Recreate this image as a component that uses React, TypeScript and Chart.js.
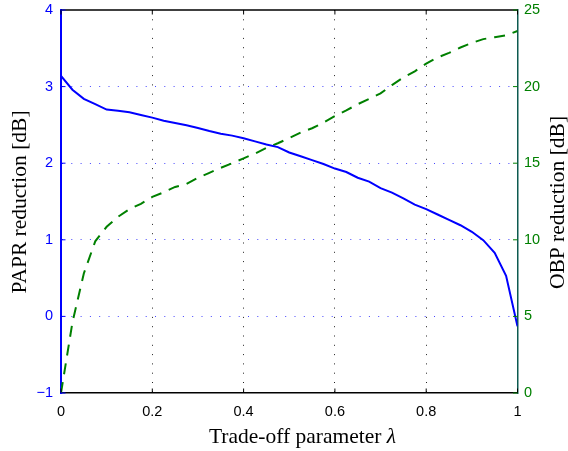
import React, { useEffect, useRef } from 'react';
import { Chart, registerables } from 'chart.js';

Chart.register(...registerables);

const lambdaValues = [
  0, 0.025, 0.05, 0.075, 0.1, 0.125, 0.15, 0.175, 0.2, 0.225, 0.25, 0.275, 0.3, 0.325,
  0.35, 0.375, 0.4, 0.425, 0.45, 0.475, 0.5, 0.525, 0.55, 0.575, 0.6, 0.625, 0.65, 0.675,
  0.7, 0.725, 0.75, 0.775, 0.8, 0.825, 0.85, 0.875, 0.9, 0.925, 0.95, 0.975, 1,
];

const paprReduction = [
  3.14, 2.96, 2.84, 2.77, 2.7, 2.685, 2.665, 2.63, 2.595, 2.555, 2.525, 2.495, 2.46, 2.42,
  2.385, 2.36, 2.325, 2.285, 2.245, 2.21, 2.14, 2.09, 2.04, 1.99, 1.93, 1.885, 1.81, 1.76,
  1.675, 1.615, 1.54, 1.46, 1.4, 1.33, 1.26, 1.19, 1.105, 0.995, 0.83, 0.53, -0.13,
];

const obpReduction = [
  0, 4.6, 7.8, 9.9, 10.85, 11.5, 12.0, 12.35, 12.8, 13.1, 13.45, 13.65, 14.05, 14.37,
  14.7, 15.0, 15.32, 15.63, 16.0, 16.3, 16.64, 17.0, 17.28, 17.65, 18.08, 18.45, 18.85, 19.2,
  19.56, 20.1, 20.6, 21.0, 21.5, 21.9, 22.2, 22.55, 22.85, 23.1, 23.22, 23.35, 23.63,
];

const xTicks = [0, 0.2, 0.4, 0.6, 0.8, 1];
const paprTicks = [-1, 0, 1, 2, 3, 4];
const obpTicks = [0, 5, 10, 15, 20, 25];

const xTitle = 'Trade-off parameter ';
const xTitleSymbol = 'λ';
const leftTitle = 'PAPR reduction [dB]';
const rightTitle = 'OBP reduction [dB]';

const BLUE = '#0000ff';
const GREEN = '#008000';
const SERIF = '"Liberation Serif", "Times New Roman", serif';
const SANS = '"Liberation Sans", Arial, Helvetica, sans-serif';
const TITLE_SIZE = 21.5;

const decorPlugin = {
  id: 'decor',
  afterDraw(chart: any) {
    const { ctx, chartArea } = chart;
    const { left, right, top, bottom } = chartArea;
    const xs = chart.scales.x;
    const yl = chart.scales.y;
    const yr = chart.scales.y1;
    ctx.save();
    ctx.setLineDash([]);
    // top border
    ctx.strokeStyle = '#000';
    ctx.lineWidth = 1.5;
    ctx.beginPath();
    ctx.moveTo(left, top);
    ctx.lineTo(right, top);
    ctx.stroke();
    // inward ticks
    ctx.lineWidth = 1;
    const tl = 4.5;
    xTicks.forEach((v) => {
      const px = xs.getPixelForValue(v);
      ctx.beginPath();
      ctx.moveTo(px, bottom);
      ctx.lineTo(px, bottom - tl);
      ctx.moveTo(px, top);
      ctx.lineTo(px, top + tl);
      ctx.stroke();
    });
    ctx.strokeStyle = BLUE;
    paprTicks.forEach((v) => {
      const py = yl.getPixelForValue(v);
      ctx.beginPath();
      ctx.moveTo(left, py);
      ctx.lineTo(left + tl, py);
      ctx.stroke();
    });
    ctx.strokeStyle = GREEN;
    obpTicks.forEach((v) => {
      const py = yr.getPixelForValue(v);
      ctx.beginPath();
      ctx.moveTo(right, py);
      ctx.lineTo(right - tl, py);
      ctx.stroke();
    });

    // titles
    ctx.fillStyle = '#000';
    ctx.textBaseline = 'alphabetic';
    ctx.textAlign = 'left';
    const normalFont = `${TITLE_SIZE}px ${SERIF}`;
    const italicFont = `italic ${TITLE_SIZE}px ${SERIF}`;
    ctx.font = normalFont;
    const w1 = ctx.measureText(xTitle).width;
    ctx.font = italicFont;
    const w2 = ctx.measureText(xTitleSymbol).width;
    const cx = 302.5;
    const startX = cx - (w1 + w2) / 2;
    ctx.font = normalFont;
    ctx.fillText(xTitle, startX, 443);
    ctx.font = italicFont;
    ctx.fillText(xTitleSymbol, startX + w1, 443);

    ctx.font = normalFont;
    ctx.textAlign = 'center';
    ctx.save();
    ctx.translate(25.5, 202);
    ctx.rotate(-Math.PI / 2);
    ctx.fillText(leftTitle, 0, 0);
    ctx.restore();
    ctx.save();
    ctx.translate(563.5, 202.5);
    ctx.rotate(-Math.PI / 2);
    ctx.fillText(rightTitle, 0, 0);
    ctx.restore();
    ctx.restore();
  },
};

export default function App() {
  const canvasRef = useRef<HTMLCanvasElement | null>(null);

  useEffect(() => {
    if (!canvasRef.current) return;
    const chart = new Chart(canvasRef.current, {
      type: 'line',
      data: {
        datasets: [
          {
            label: 'PAPR reduction',
            data: lambdaValues.map((x, i) => ({ x, y: paprReduction[i] })),
            borderColor: BLUE,
            borderWidth: 2,
            pointRadius: 0,
            tension: 0,
            fill: false,
            yAxisID: 'y',
          },
          {
            label: 'OBP reduction',
            data: lambdaValues.map((x, i) => ({ x, y: obpReduction[i] })),
            borderColor: GREEN,
            borderWidth: 2,
            borderDash: [11, 8],
            pointRadius: 0,
            tension: 0,
            fill: false,
            yAxisID: 'y1',
          },
        ],
      },
      options: {
        responsive: false,
        animation: false,
        events: [],
        layout: { padding: { top: 10, left: 0, right: 0, bottom: 0 } },
        plugins: {
          legend: { display: false },
          tooltip: { enabled: false },
          title: { display: false },
        },
        scales: {
          x: {
            type: 'linear',
            min: 0,
            max: 1,
            afterBuildTicks: (s: any) => {
              s.ticks = xTicks.map((v) => ({ value: v }));
            },
            afterFit: (s: any) => {
              s.height = 58;
              s.paddingLeft = 0;
              s.paddingRight = 0;
            },
            ticks: {
              color: '#000',
              font: { family: SANS, size: 14.5 },
              padding: 10,
              maxRotation: 0,
              callback: (v: any) => String(Number(v)),
            },
            grid: {
              drawTicks: false,
              lineWidth: 1,
              color: (c: any) =>
                c.tick && (c.tick.value === 0 || c.tick.value === 1) ? 'rgba(0,0,0,0)' : '#222',
            },
            border: { color: '#000', width: 1.5, dash: [1, 8.3] },
          },
          y: {
            type: 'linear',
            position: 'left',
            min: -1,
            max: 4,
            afterBuildTicks: (s: any) => {
              s.ticks = paprTicks.map((v) => ({ value: v }));
            },
            afterFit: (s: any) => {
              s.width = 61;
              s.paddingTop = 0;
              s.paddingBottom = 0;
            },
            ticks: {
              color: BLUE,
              font: { family: SANS, size: 14.5 },
              padding: 8,
              callback: (v: any) => (Number(v) < 0 ? '\u2212' + Math.abs(Number(v)) : String(v)),
            },
            grid: {
              drawTicks: false,
              lineWidth: 1,
              color: (c: any) =>
                c.tick && (c.tick.value === -1 || c.tick.value === 4) ? 'rgba(0,0,0,0)' : '#4444ff',
            },
            border: { color: BLUE, width: 2, dash: [1, 8.3] },
          },
          y1: {
            type: 'linear',
            position: 'right',
            min: 0,
            max: 25,
            afterBuildTicks: (s: any) => {
              s.ticks = obpTicks.map((v) => ({ value: v }));
            },
            afterFit: (s: any) => {
              s.width = 50.5;
              s.paddingTop = 0;
              s.paddingBottom = 0;
            },
            ticks: {
              color: GREEN,
              font: { family: SANS, size: 14.5 },
              padding: 6.5,
            },
            grid: { drawTicks: false, drawOnChartArea: false },
            border: { color: '#0d5a50', width: 1.5 },
          },
        },
      },
      plugins: [decorPlugin],
    } as any);
    return () => chart.destroy();
  }, []);

  return (
    <div style={{ position: 'fixed', left: 0, top: 0, width: 568, height: 451, background: '#fff' }}>
      <canvas ref={canvasRef} width={568} height={451} style={{ width: 568, height: 451 }} />
    </div>
  );
}
